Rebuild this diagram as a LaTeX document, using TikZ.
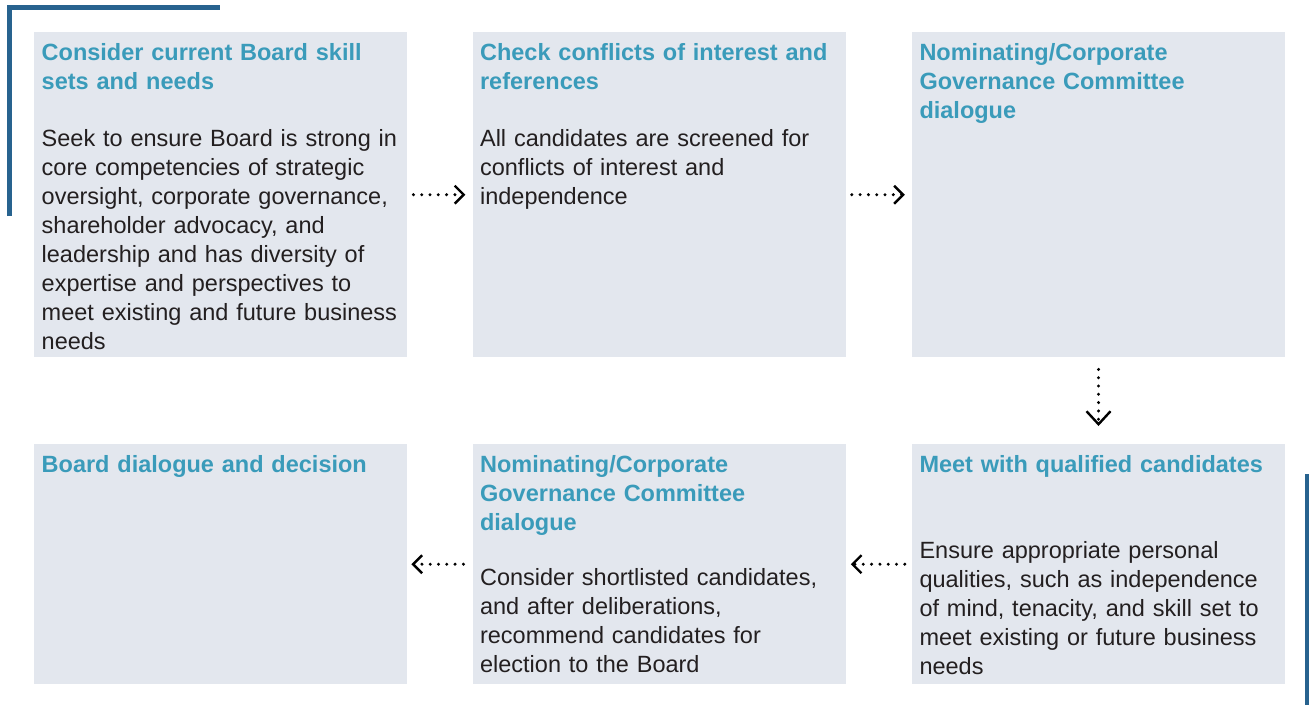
\documentclass[tikz,border=0pt]{standalone}
\usepackage{fontspec}
\setmainfont{Liberation Sans}
\usepackage{xcolor}
\usetikzlibrary{arrows.meta,positioning}

\definecolor{boxfill}{HTML}{E3E7EE}
\definecolor{ttlblue}{HTML}{3A9BBA}
\definecolor{bodyink}{HTML}{231F20}
\definecolor{rulebar}{HTML}{28638F}

\begin{document}
\begin{tikzpicture}[x=1pt,y=-1pt,
    stepbox/.style={fill=boxfill,inner sep=0pt,minimum width=373pt,anchor=north west},
    ttl/.style={anchor=base west,inner sep=0pt,text width=370pt,align=left,
      text=ttlblue,font=\fontsize{23.5}{29}\selectfont\bfseries},
    txt/.style={anchor=base west,inner sep=0pt,text width=370pt,align=left,
      text=bodyink,font=\fontsize{23.5}{29}\selectfont},
    flow/.style={line width=3.3pt,line cap=round,dash pattern=on 0pt off 8.3pt,
      -{Straight Barb[length=9pt,width=18pt,line width=2.4pt]}}]
  \useasboundingbox (0,0) rectangle (1309,705);

  % corner bars
  \draw[rulebar,line width=4.5pt] (9.6,216) -- (9.6,7.7) -- (220,7.7);
  \draw[rulebar,line width=4.3pt] (1307,474) -- (1307,705);

  % boxes
  \node[stepbox,minimum height=325pt] (b1) at (34,32) {};
  \node[stepbox,minimum height=325pt,right=65pt of b1.north east,anchor=north west] (b2) {};
  \node[stepbox,minimum height=325pt,right=66pt of b2.north east,anchor=north west] (b3) {};
  \node[stepbox,minimum height=240pt] (b4) at (34,444) {};
  \node[stepbox,minimum height=240pt,right=65pt of b4.north east,anchor=north west] (b5) {};
  \node[stepbox,minimum height=240pt,right=66pt of b5.north east,anchor=north west] (b6) {};

  % titles
  \node[ttl] (t1) at ([shift={(7.5,28)}]b1.north west) {Consider current Board skill\\sets and needs};
  \node[ttl] (t2) at ([shift={(7.5,28)}]b2.north west) {Check conflicts of interest and\\references};
  \node[ttl] (t3) at ([shift={(7.5,28)}]b3.north west) {Nominating/Corporate\\Governance Committee\\dialogue};
  \node[ttl] (t4) at ([shift={(7.5,28)}]b4.north west) {Board dialogue and decision};
  \node[ttl] (t5) at ([shift={(7.5,28)}]b5.north west) {Nominating/Corporate\\Governance Committee\\dialogue};
  \node[ttl] (t6) at ([shift={(7.5,28)}]b6.north west) {Meet with qualified candidates};

  % body texts
  \node[txt] (d1) at ([shift={(7.5,114)}]b1.north west) {Seek to ensure Board is strong in\\core competencies of strategic\\oversight, corporate governance,\\shareholder advocacy, and\\leadership and has diversity of\\expertise and perspectives to\\meet existing and future business\\needs};
  \node[txt] (d2) at ([shift={(7.5,114)}]b2.north west) {All candidates are screened for\\conflicts of interest and\\independence};
  \node[txt] (d5) at ([shift={(7.5,141)}]b5.north west) {Consider shortlisted candidates,\\and after deliberations,\\recommend candidates for\\election to the Board};
  \node[txt] (d6) at ([shift={(7.5,114)}]b6.north west) {Ensure appropriate personal\\qualities, such as independence\\of mind, tenacity, and skill set to\\meet existing or future business\\needs};

  % flow between steps
  \draw[flow,shorten <=6pt,shorten >=7pt] (b1.east) -- (b2.west);
  \draw[flow,shorten <=6pt,shorten >=7pt] (b2.east) -- (b3.west);
  \draw[flow,shorten <=12pt,shorten >=18pt,
    -{Straight Barb[length=13pt,width=24pt,line width=2.4pt]}] (b3.south) -- (b6.north);
  \draw[flow,shorten <=7pt,shorten >=5pt] (b6.west) -- (b5.east);
  \draw[flow,shorten <=9pt,shorten >=4pt] (b5.west) -- (b4.east);
\end{tikzpicture}
\end{document}
